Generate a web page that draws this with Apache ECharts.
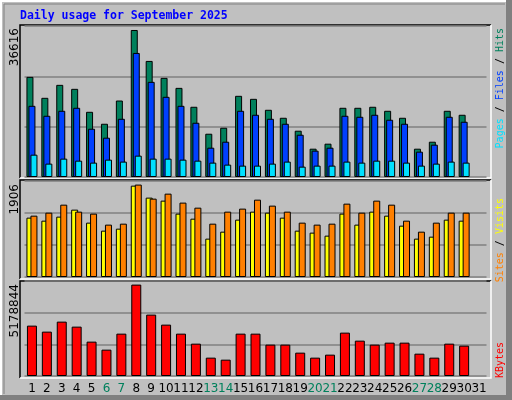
<!DOCTYPE html>
<html><head><meta charset="utf-8">
<script src="https://cdn.jsdelivr.net/npm/echarts@6/dist/echarts.min.js"></script>
<style>html,body{margin:0;padding:0;background:#c0c0c0}#c{width:512px;height:400px}</style>
</head><body><div id="c"></div>
<script>
const days = Array.from({length:31},(_,i)=>String(i+1));
const weekend = ['6','7','13','14','20','21','27','28'];
const hits = [24940,19720,22950,21960,16240,13260,19050,36616,28910,24690,22200,17490,10780,12270,20220,19470,16740,14750,11530,7050,8300,17240,17240,17490,16490,14750,7050,8790,16490,15500,null];
const files = [17730,15250,16490,17240,12020,9790,14500,30900,23700,19970,17730,13510,7300,8790,16490,15500,14500,13260,10530,6560,7300,15250,15000,15500,14260,13260,6310,8050,15000,13760,null];
const pages = [5560,3330,4570,4070,3580,4320,3830,5320,4570,4570,4320,4070,3580,3080,2830,2830,3330,3830,2580,2830,2830,3830,3580,4070,4070,3580,2830,3330,3830,3580,null];
const visits = [1224,1162,1245,1389,1121,956,997,1884,1637,1575,1307,1203,791,935,1183,1348,1327,1224,956,915,853,1307,1080,1348,1265,1059,791,832,1183,1162,null];
const sites = [1265,1327,1492,1348,1307,1080,1100,1906,1616,1719,1534,1430,1100,1348,1410,1595,1472,1348,1121,1080,1100,1513,1327,1575,1492,1162,935,1121,1327,1327,null];
const kbytes = [2854000,2514000,3081000,2797000,1947000,1493000,2400000,5178844,3478000,2911000,2400000,1833000,1040000,926000,2400000,2400000,1777000,1777000,1323000,1040000,1210000,2457000,2003000,1777000,1890000,1890000,1266000,1040000,1833000,1720000,null];
const maxLabels = ['36616','1906','5178844'];

const chart = echarts.init(document.getElementById('c'));
const L = 24.5, W = 462;
const grids = [{top:26,height:151},{top:181,height:96},{top:281,height:95}].map(g=>({left:L,width:W,top:g.top,height:g.height}));
const ymax = [37610,1980,5383000];
function xa(i){return {type:'category',gridIndex:i,data:days,boundaryGap:true,
  axisLine:{show:false},axisTick:{show:false},
  axisLabel:{show:i===2,interval:0,margin:7,fontFamily:'DejaVu Sans',fontSize:12,
    color:(v)=>weekend.includes(v)?'#00805c':'#000'}};}
function ya(i){return {type:'value',gridIndex:i,min:0,max:ymax[i],interval:ymax[i]/3,
  axisLabel:{show:false},axisLine:{show:false},axisTick:{show:false},
  splitLine:{show:true,lineStyle:{color:'#808080',width:1.5}}};}
const bs = (c)=>({color:c,borderColor:'#000',borderWidth:1});
function frame(x1,y1,x2,y2){return [
  {type:'polyline',silent:true,shape:{points:[[x1,y2],[x1,y1],[x2,y1]]},style:{stroke:'#000',lineWidth:1.5,fill:null}},
  {type:'polyline',silent:true,shape:{points:[[x2,y1],[x2,y2],[x1,y2]]},style:{stroke:'#fff',lineWidth:1.5,fill:null}}];}
function vtext(x,y,rich,text){return {type:'text',x:x,y:y,rotation:Math.PI/2,silent:true,
  style:{text:text,textAlign:'right',textVerticalAlign:'middle',font:'10px "DejaVu Sans Mono"',rich:rich}};}
const rich = {p:{fill:'#00e0ff',font:'10px "DejaVu Sans Mono"'},f:{fill:'#0040ff',font:'10px "DejaVu Sans Mono"'},h:{fill:'#00805c',font:'10px "DejaVu Sans Mono"'},
  s:{fill:'#ff8000',font:'10px "DejaVu Sans Mono"'},v:{fill:'#ffff00',font:'10px "DejaVu Sans Mono"'},k:{fill:'#ff0000',font:'10px "DejaVu Sans Mono"'},b:{fill:'#000',font:'10px "DejaVu Sans Mono"'}};
chart.setOption({
  animation:false,backgroundColor:'#c0c0c0',
  grid:grids,xAxis:[xa(0),xa(1),xa(2)],yAxis:[ya(0),ya(1),ya(2)],
  series:[
    {type:'bar',xAxisIndex:0,yAxisIndex:0,data:hits,barWidth:7,barGap:'-71.4%',itemStyle:bs('#00805c')},
    {type:'bar',xAxisIndex:0,yAxisIndex:0,data:files,barWidth:7,barGap:'-71.4%',itemStyle:bs('#0040ff')},
    {type:'bar',xAxisIndex:0,yAxisIndex:0,data:pages,barWidth:7,barGap:'-71.4%',itemStyle:bs('#00e0ff')},
    {type:'bar',xAxisIndex:1,yAxisIndex:1,data:visits,barWidth:7,barGap:'-42.9%',itemStyle:bs('#ffff00')},
    {type:'bar',xAxisIndex:1,yAxisIndex:1,data:sites,barWidth:7,barGap:'-42.9%',itemStyle:bs('#ff8000')},
    {type:'bar',xAxisIndex:2,yAxisIndex:2,data:kbytes,barWidth:10,itemStyle:bs('#ff0000')}
  ],
  graphic:[
    {type:'polyline',silent:true,shape:{points:[[1,398],[1,1],[506,1]]},style:{stroke:'#fff',lineWidth:2,fill:null}},
    {type:'rect',silent:true,shape:{x:506,y:0,width:6,height:400},style:{fill:'#808080'}},
    {type:'rect',silent:true,shape:{x:0,y:395,width:512,height:5},style:{fill:'#808080'}},
    {type:'polyline',silent:true,shape:{points:[[4,394],[4,4],[505,4]]},style:{stroke:'#808080',lineWidth:1,fill:null}},
    {type:'text',x:20,y:16,silent:true,style:{text:'Daily usage for September 2025',fill:'#0000ff',font:'bold 11.5px "DejaVu Sans Mono"',textVerticalAlign:'middle'}},
    ...frame(20,25,491,178),...frame(20,180,491,279),...frame(20,281,491,378),
    {type:'text',x:15,y:28,rotation:Math.PI/2,silent:true,style:{text:maxLabels[0],textAlign:'right',textVerticalAlign:'middle',fill:'#000',font:'12px "DejaVu Sans"'}},
    {type:'text',x:15,y:184,rotation:Math.PI/2,silent:true,style:{text:maxLabels[1],textAlign:'right',textVerticalAlign:'middle',fill:'#000',font:'12px "DejaVu Sans"'}},
    {type:'text',x:15,y:284,rotation:Math.PI/2,silent:true,style:{text:maxLabels[2],textAlign:'right',textVerticalAlign:'middle',fill:'#000',font:'12px "DejaVu Sans"'}},
    vtext(500,28,rich,'{p|Pages}{b| / }{f|Files}{b| / }{h|Hits}'),
    vtext(500,198,rich,'{s|Sites}{b| / }{v|Visits}'),
    vtext(500,342,rich,'{k|KBytes}')
  ]
});
</script></body></html>
